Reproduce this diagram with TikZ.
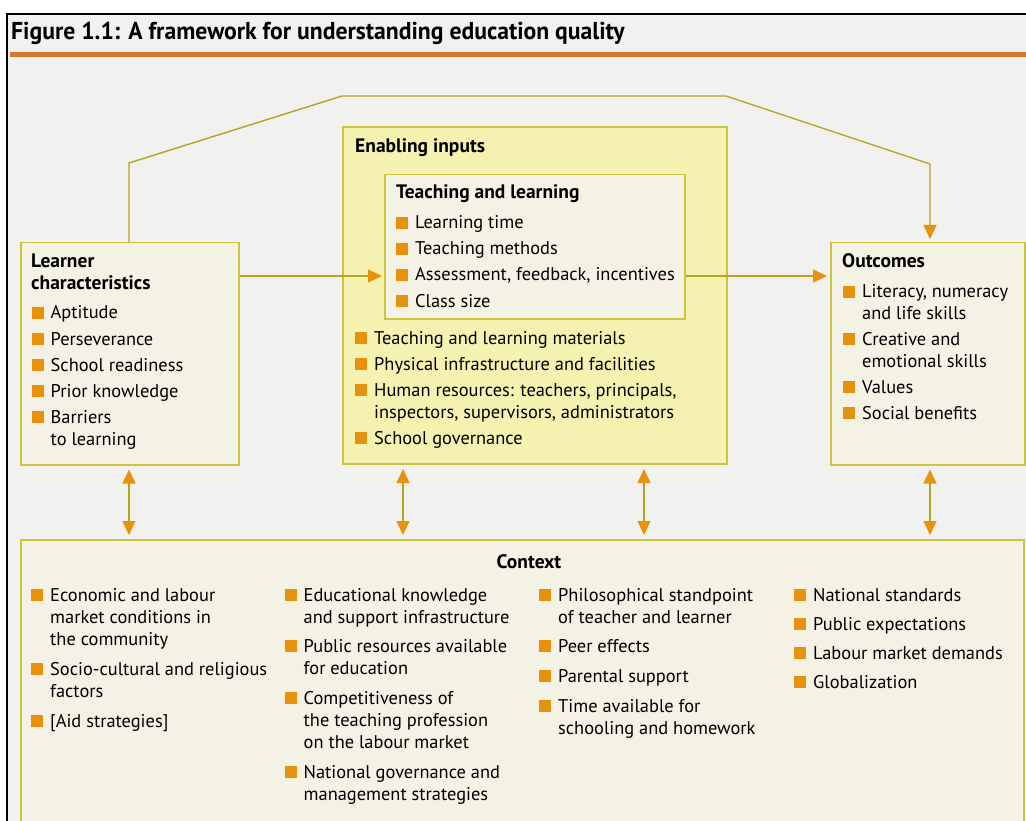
\documentclass[tikz,border=0pt]{standalone}
\usepackage{fontspec}
\setmainfont{PT Sans}
\newfontfamily\titlefont[FakeStretch=0.97]{PT Sans}
\usetikzlibrary{arrows.meta}

\definecolor{pagegray}{RGB}{241,241,240}
\definecolor{creambox}{RGB}{243,242,229}
\definecolor{paleyellow}{RGB}{245,241,176}
\definecolor{boxline}{RGB}{204,196,60}
\definecolor{connline}{RGB}{180,164,30}
\definecolor{bulorange}{RGB}{232,146,12}
\definecolor{rulebrown}{RGB}{217,120,45}

\newcommand{\bul}{\textcolor{bulorange}{\rule{12pt}{12pt}}\hspace{7pt}}
\newcommand{\lines}[1]{\begin{tabular}[t]{@{}l@{}}#1\end{tabular}}

\tikzset{
  cbox/.style={draw=boxline, line width=1.5pt, fill=creambox, anchor=north west, inner sep=0},
  txt/.style={anchor=base west, inner sep=0, font=\fontsize{18.4}{22}\selectfont},
  head/.style={txt, font=\fontsize{19.5}{22}\selectfont\bfseries},
  conn/.style={draw=connline, line width=1.4pt},
  >={Triangle[width=13pt,length=14pt,color=bulorange]}
}

\begin{document}
\begin{tikzpicture}[x=1pt,y=-1pt]
  \useasboundingbox (0,0) rectangle (1026,821);
  \fill[white] (0,0) rectangle (1026,821);
  \fill[pagegray] (7,14) rectangle (1026,821);
  \draw[black, line width=2pt] (1026,14) -- (7,14) -- (7,821);

  \node[anchor=base west, inner sep=0, font=\titlefont\bfseries\fontsize{24.4}{26}\selectfont] (title) at (11,40)
    {Figure 1.1: A framework for understanding education quality};
  \draw[rulebrown, line width=5pt] (10,55) -- (1026,55);

  % boxes
  \node[cbox, minimum width=218pt, minimum height=222pt] (learner) at (20,242) {};
  \node[cbox, fill=paleyellow, line width=2pt, minimum width=384pt, minimum height=337pt] (enabling) at (342,126) {};
  \node[cbox, minimum width=300pt, minimum height=144pt] (teach) at (384,174) {};
  \node[cbox, minimum width=194pt, minimum height=222pt] (outcomes) at (830,242) {};
  \node[cbox, minimum width=1003pt, minimum height=300pt] (context) at (20,539) {};

  % learner characteristics
  \node[head] (lhead) at (31,268) {\lines{Learner\\characteristics}};
  \foreach \y/\t [count=\i] in {319/Aptitude, 345/Perseverance, 371/School readiness,
      397/Prior knowledge, 423/{\lines{Barriers\\to learning}}}
    \node[txt] (lc\i) at (31.5,\y) {\bul\t};

  % enabling inputs
  \node[head] (ehead) at (355,153) {Enabling inputs};
  \node[head] (thead) at (396,199) {Teaching and learning};
  \foreach \y/\t [count=\i] in {229/Learning time, 255/Teaching methods,
      281/{Assessment, feedback, incentives}, 307/Class size}
    \node[txt] (tl\i) at (396,\y) {\bul\t};
  \foreach \y/\t [count=\i] in {344/Teaching and learning materials, 370/Physical infrastructure and facilities,
      396/{\lines{Human resources: teachers, principals,\\inspectors, supervisors, administrators}},
      444/School governance}
    \node[txt] (ei\i) at (355,\y) {\bul\t};

  % outcomes
  \node[head] (ohead) at (842,268) {Outcomes};
  \foreach \y/\t [count=\i] in {298/{\lines{Literacy, numeracy\\and life skills}},
      345/{\lines{Creative and\\emotional skills}}, 393/Values, 419/Social benefits}
    \node[txt] (oc\i) at (843,\y) {\bul\t};

  % context
  \node[head, anchor=base] (chead) at (529,568) {Context};
  \foreach \y/\t [count=\i] in {601/{\lines{Economic and labour\\market conditions in\\the community}},
      675/{\lines{Socio-cultural and religious\\factors}}, 727/{[Aid strategies]}}
    \node[txt] (ca\i) at (31,\y) {\bul\t};
  \foreach \y/\t [count=\i] in {601/{\lines{Educational knowledge\\and support infrastructure}},
      652/{\lines{Public resources available\\for education}},
      704/{\lines{Competitiveness of\\the teaching profession\\on the labour market}},
      778/{\lines{National governance and\\management strategies}}}
    \node[txt] (cb\i) at (284.5,\y) {\bul\t};
  \foreach \y/\t [count=\i] in {601/{\lines{Philosophical standpoint\\of teacher and learner}},
      652/Peer effects, 682/Parental support,
      712/{\lines{Time available for\\schooling and homework}}}
    \node[txt] (cc\i) at (539,\y) {\bul\t};
  \foreach \y/\t [count=\i] in {601/National standards, 630/Public expectations,
      659/Labour market demands, 688/Globalization}
    \node[txt] (cd\i) at (794,\y) {\bul\t};

  % connectors
  \coordinate (up1) at (129,163);
  \coordinate (up2) at (342,96);
  \coordinate (up3) at (726,96);
  \coordinate (up4) at (930,164);
  \coordinate (mid) at (0,276);
  \draw[conn, ->, shorten >=3pt] (learner.north -| up1) -- (up1) -- (up2) -- (up3) -- (up4) -- (outcomes.north -| up4);
  \draw[conn, ->, shorten >=2pt] (learner.east |- mid) -- (teach.west |- mid);
  \draw[conn, ->, shorten >=3pt] (teach.east |- mid) -- (outcomes.west |- mid);
  \foreach \b/\x in {learner/129, enabling/403, enabling/644, outcomes/930}
    \draw[conn, <->, shorten <=4pt, shorten >=4pt] (\b.south -| \x,0) -- (context.north -| \x,0);
\end{tikzpicture}
\end{document}
